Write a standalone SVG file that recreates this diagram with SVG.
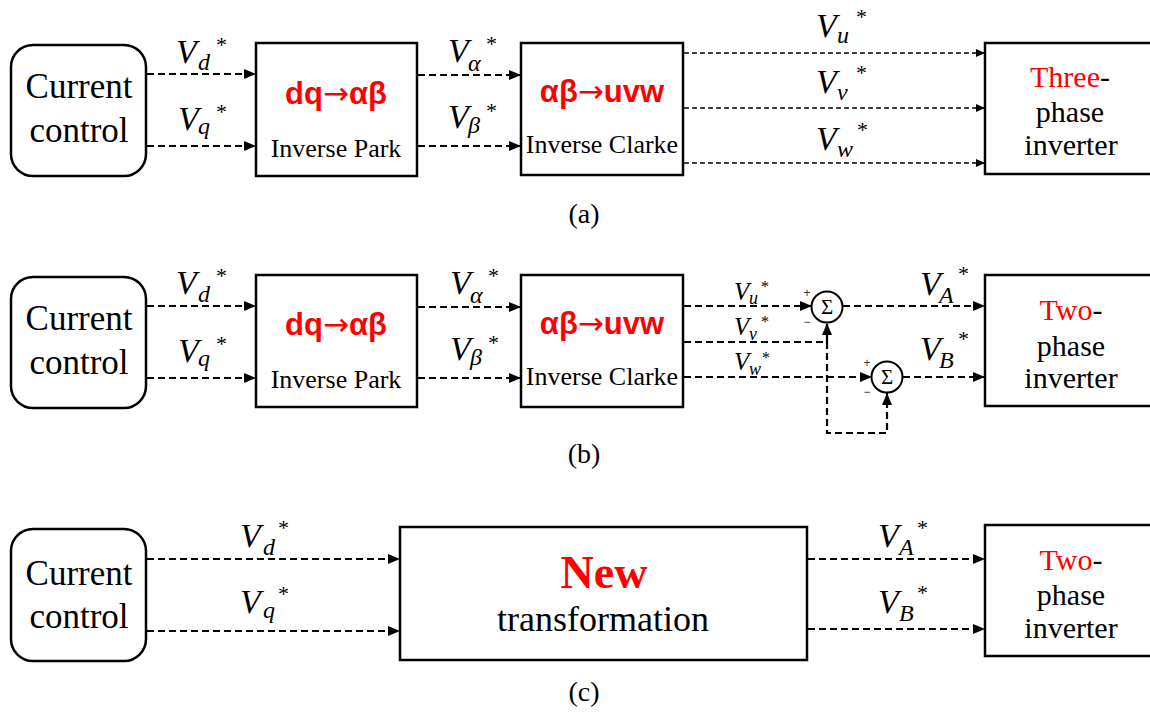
<svg xmlns="http://www.w3.org/2000/svg" width="1150" height="715" viewBox="0 0 1150 715">
  <style>
    .box { fill: #fff; stroke: #000; stroke-width: 2.5; }
    .ctl { fill: #fff; stroke: #000; stroke-width: 2.5; }
    .sum { fill: #fff; stroke: #000; stroke-width: 2; }
    .ln { fill: none; stroke: #000; stroke-width: 2.2; stroke-dasharray: 7 4; }
    .thin { fill: none; stroke: #000; stroke-width: 1.5; stroke-dasharray: 5 3; }
    .tnr { font-family: "Liberation Serif", "Times New Roman", serif; fill: #000; }
    .cc { font-size: 35px; text-anchor: middle; }
    .sub-title { font-size: 26px; text-anchor: middle; }
    .red { fill: #ff0000; }
    .blk { font-family: "Liberation Sans", "DejaVu Sans", sans-serif; font-weight: bold; font-size: 31px; text-anchor: middle; fill: #ff0000; }
    .arr { font-family: "DejaVu Sans", sans-serif; font-weight: normal; }
    .inv { font-size: 30px; text-anchor: middle; }
    .cap { font-size: 28px; text-anchor: middle; }
    .V { font-family: "Liberation Serif", serif; font-style: italic; font-size: 34px; }
    .s { font-family: "Liberation Serif", serif; font-style: italic; font-size: 24px; }
    .st { font-family: "Liberation Serif", serif; font-size: 22px; }
    .Vsm { font-family: "Liberation Serif", serif; font-style: italic; font-size: 25px; }
    .ssm { font-family: "Liberation Serif", serif; font-style: italic; font-size: 18px; }
    .stsm { font-family: "Liberation Serif", serif; font-size: 16px; }
    .sig { font-family: "Liberation Serif", serif; font-size: 21px; text-anchor: middle; }
    .pm { font-family: "Liberation Sans", sans-serif; font-size: 12px; text-anchor: middle; fill: #333; }
  </style>
  <defs>
    <marker id="ah" markerUnits="userSpaceOnUse" markerWidth="12" markerHeight="10" refX="12" refY="5" orient="auto">
      <path d="M0,0 L12,5 L0,10 Z" fill="#000"/>
    </marker>
    <marker id="ahs" markerUnits="userSpaceOnUse" markerWidth="9" markerHeight="8" refX="9" refY="4" orient="auto">
      <path d="M0,0 L9,4 L0,8 Z" fill="#000"/>
    </marker>
  </defs>

  <rect width="1150" height="715" fill="#fff"/>

  <!-- connectors -->
  <g id="connectors">
    <!-- (a) -->
    <line class="ln" x1="147" y1="74" x2="256" y2="74" marker-end="url(#ah)"/>
    <line class="ln" x1="147" y1="146" x2="256" y2="146" marker-end="url(#ah)"/>
    <line class="ln" x1="418" y1="75" x2="521" y2="75" marker-end="url(#ah)"/>
    <line class="ln" x1="418" y1="146" x2="521" y2="146" marker-end="url(#ah)"/>
    <line class="thin" x1="684" y1="53" x2="985" y2="53" marker-end="url(#ahs)"/>
    <line class="thin" x1="684" y1="108" x2="985" y2="108" marker-end="url(#ahs)"/>
    <line class="thin" x1="684" y1="163" x2="985" y2="163" marker-end="url(#ahs)"/>
    <!-- (b) -->
    <line class="ln" x1="147" y1="306" x2="256" y2="306" marker-end="url(#ah)"/>
    <line class="ln" x1="147" y1="378" x2="256" y2="378" marker-end="url(#ah)"/>
    <line class="ln" x1="418" y1="307" x2="521" y2="307" marker-end="url(#ah)"/>
    <line class="ln" x1="418" y1="378" x2="521" y2="378" marker-end="url(#ah)"/>
    <line class="ln" x1="684" y1="306" x2="812" y2="306" marker-end="url(#ah)"/>
    <polyline class="ln" points="684,342 827,342 827,323" marker-end="url(#ah)"/>
    <polyline class="ln" points="827,342 827,433 887,433 887,393" marker-end="url(#ah)"/>
    <line class="ln" x1="684" y1="377" x2="872" y2="377" marker-end="url(#ah)"/>
    <line class="ln" x1="843" y1="306" x2="985" y2="306" marker-end="url(#ah)"/>
    <line class="ln" x1="903" y1="377" x2="985" y2="377" marker-end="url(#ah)"/>
    <!-- (c) -->
    <line class="ln" x1="147" y1="559" x2="400" y2="559" marker-end="url(#ah)"/>
    <line class="ln" x1="147" y1="631" x2="400" y2="631" marker-end="url(#ah)"/>
    <line class="ln" x1="808" y1="559" x2="985" y2="559" marker-end="url(#ah)"/>
    <line class="ln" x1="808" y1="629" x2="985" y2="629" marker-end="url(#ah)"/>
  </g>

  <!-- ===== (a) ===== -->
  <g id="a-control">
    <rect class="ctl" x="11" y="45" width="135" height="131" rx="22"/>
    <text class="tnr cc" x="79" y="98">Current</text>
    <text class="tnr cc" x="79" y="142">control</text>
  </g>
  <g id="a-park">
    <rect class="box" x="256" y="43" width="161" height="133"/>
    <text class="blk" x="336" y="104">dq<tspan class="arr">→</tspan>αβ</text>
    <text class="tnr sub-title" x="336" y="157">Inverse Park</text>
  </g>
  <g id="a-clarke">
    <rect class="box" x="521" y="43" width="162" height="132"/>
    <text class="blk" x="602" y="102">αβ<tspan class="arr">→</tspan>uvw</text>
    <text class="tnr sub-title" x="602" y="153">Inverse Clarke</text>
  </g>
  <g id="a-inverter">
    <rect class="box" x="985" y="43" width="170" height="131"/>
    <text class="tnr inv" x="1070" y="87" font-size="37"><tspan class="red">Three</tspan>-</text>
    <text class="tnr inv" x="1070" y="122">phase</text>
    <text class="tnr inv" x="1071" y="155">inverter</text>
  </g>
  <g id="a-labels">
    <text class="V" x="176" y="63">V</text><text class="s" x="198" y="70">d</text><text class="st" x="216" y="52">*</text>
    <text class="V" x="178" y="130">V</text><text class="s" x="198" y="134">q</text><text class="st" x="216" y="119">*</text>
    <text class="V" x="448" y="62">V</text><text class="s" x="468" y="71">α</text><text class="st" x="486" y="51">*</text>
    <text class="V" x="448" y="128">V</text><text class="s" x="468" y="133">β</text><text class="st" x="486" y="118">*</text>
    <text class="V" x="816" y="37">V</text><text class="s" x="837" y="43">u</text><text class="st" x="856" y="24">*</text>
    <text class="V" x="816" y="93">V</text><text class="s" x="837" y="100">v</text><text class="st" x="856" y="80">*</text>
    <text class="V" x="816" y="150">V</text><text class="s" x="837" y="157">w</text><text class="st" x="857" y="137">*</text>
    <text class="tnr cap" x="584" y="223">(a)</text>
  </g>

  <!-- ===== (b) ===== -->
  <g id="b-control">
    <rect class="ctl" x="11" y="277" width="135" height="131" rx="22"/>
    <text class="tnr cc" x="79" y="330">Current</text>
    <text class="tnr cc" x="79" y="374">control</text>
  </g>
  <g id="b-park">
    <rect class="box" x="256" y="275" width="161" height="132"/>
    <text class="blk" x="336" y="335">dq<tspan class="arr">→</tspan>αβ</text>
    <text class="tnr sub-title" x="336" y="388">Inverse Park</text>
  </g>
  <g id="b-clarke">
    <rect class="box" x="521" y="275" width="162" height="132"/>
    <text class="blk" x="602" y="334">αβ<tspan class="arr">→</tspan>uvw</text>
    <text class="tnr sub-title" x="602" y="385">Inverse Clarke</text>
  </g>
  <g id="b-sum1">
    <circle class="sum" cx="827" cy="307" r="15.5"/>
    <text class="sig" x="827" y="314">Σ</text>
    <text class="pm" x="807" y="297">+</text>
    <text class="pm" x="807" y="326">−</text>
  </g>
  <g id="b-sum2">
    <circle class="sum" cx="887" cy="377" r="15.5"/>
    <text class="sig" x="887" y="384">Σ</text>
    <text class="pm" x="867" y="367">+</text>
    <text class="pm" x="867" y="396">−</text>
  </g>
  <g id="b-inverter">
    <rect class="box" x="985" y="275" width="170" height="131"/>
    <text class="tnr inv" x="1071" y="320" font-size="36"><tspan class="red">Two</tspan>-</text>
    <text class="tnr inv" x="1071" y="356">phase</text>
    <text class="tnr inv" x="1071" y="388">inverter</text>
  </g>
  <g id="b-labels">
    <text class="V" x="176" y="294">V</text><text class="s" x="198" y="302">d</text><text class="st" x="216" y="283">*</text>
    <text class="V" x="178" y="362">V</text><text class="s" x="198" y="366">q</text><text class="st" x="216" y="351">*</text>
    <text class="V" x="450" y="294">V</text><text class="s" x="470" y="303">α</text><text class="st" x="488" y="283">*</text>
    <text class="V" x="450" y="360">V</text><text class="s" x="470" y="365">β</text><text class="st" x="488" y="350">*</text>
    <text class="Vsm" x="734" y="300">V</text><text class="ssm" x="749" y="304">u</text><text class="stsm" x="761" y="292">*</text>
    <text class="Vsm" x="734" y="335">V</text><text class="ssm" x="749" y="340">v</text><text class="stsm" x="761" y="327">*</text>
    <text class="Vsm" x="734" y="370">V</text><text class="ssm" x="749" y="375">w</text><text class="stsm" x="762" y="363">*</text>
    <text class="V" x="920" y="295">V</text><text class="s" x="939" y="303">A</text><text class="st" x="958" y="281">*</text>
    <text class="V" x="920" y="360">V</text><text class="s" x="939" y="368">B</text><text class="st" x="958" y="346">*</text>
    <text class="tnr cap" x="584" y="463">(b)</text>
  </g>

  <!-- ===== (c) ===== -->
  <g id="c-control">
    <rect class="ctl" x="11" y="529" width="135" height="132" rx="22"/>
    <text class="tnr cc" x="79" y="585">Current</text>
    <text class="tnr cc" x="79" y="628">control</text>
  </g>
  <g id="c-transform">
    <rect class="box" x="400" y="527" width="407" height="133"/>
    <text class="tnr red" x="604" y="588" font-size="46" font-weight="bold" text-anchor="middle">New</text>
    <text class="tnr" x="603" y="631" font-size="36" text-anchor="middle">transformation</text>
  </g>
  <g id="c-inverter">
    <rect class="box" x="985" y="525" width="170" height="131"/>
    <text class="tnr inv" x="1071" y="570" font-size="36"><tspan class="red">Two</tspan>-</text>
    <text class="tnr inv" x="1071" y="605">phase</text>
    <text class="tnr inv" x="1071" y="638">inverter</text>
  </g>
  <g id="c-labels">
    <text class="V" x="240" y="547">V</text><text class="s" x="263" y="555">d</text><text class="st" x="278" y="535">*</text>
    <text class="V" x="240" y="613">V</text><text class="s" x="263" y="618">q</text><text class="st" x="278" y="601">*</text>
    <text class="V" x="878" y="547">V</text><text class="s" x="899" y="555">A</text><text class="st" x="917" y="535">*</text>
    <text class="V" x="878" y="613">V</text><text class="s" x="899" y="621">B</text><text class="st" x="917" y="600">*</text>
    <text class="tnr cap" x="584" y="701">(c)</text>
  </g>
</svg>
